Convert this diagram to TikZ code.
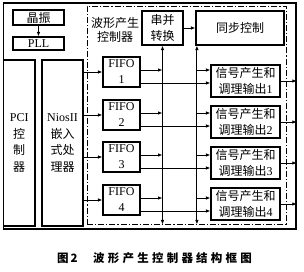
\documentclass[tikz,border=0pt]{standalone}
\usepackage{fontspec}
\usetikzlibrary{arrows.meta}
\setmainfont{Liberation Serif}
\newfontfamily\cjk{Noto Sans CJK SC}
\newfontfamily\capcjk[LetterSpace=28]{Noto Sans CJK SC}
\begin{document}
\begin{tikzpicture}[x=1pt,y=-1pt,
  box/.style={draw, line width=1.2pt, inner sep=0pt, align=center, font=\fontsize{12}{16}\selectfont},
  tall/.style={box, font=\fontsize{12}{16.7}\selectfont},
  arr/.style={line width=0.9pt, -{Latex[length=4.5pt,width=3.6pt]}},
  biarr/.style={line width=0.9pt, {Latex[length=4.5pt,width=3.6pt]}-{Latex[length=4.5pt,width=3.6pt]}},
  lbl/.style={inner sep=0pt, align=center, font=\fontsize{12}{14.5}\selectfont},
  captext/.style={inner sep=0pt, font=\fontsize{11.5}{13}\selectfont\bfseries}]
\useasboundingbox (0,0) rectangle (304,272);
% frames
\node[draw, line width=1.5pt, minimum width=292.5pt, minimum height=226pt, inner sep=0pt] (outer) at (149.75,116) {};
\node[draw, line width=0.9pt, dash pattern=on 6pt off 2pt on 1.2pt off 2pt, minimum width=199pt, minimum height=218pt, inner sep=0pt] (ctl) at (186.5,115) {};
% left part
\node[box, minimum width=51pt, minimum height=15pt] (xz) at (38.5,17.5) {\cjk 晶振};
\node[box, minimum width=51pt, minimum height=13pt] (pll) at (38.5,43.5) {PLL};
\node[tall, minimum width=31.5pt, minimum height=166pt] (pci) at (19.25,143) {PCI\\{\cjk 控}\\{\cjk 制}\\{\cjk 器}};
\node[tall, minimum width=41pt, minimum height=166pt] (nios) at (62.5,143) {NiosII\\{\cjk 嵌入}\\{\cjk 式处}\\{\cjk 理器}};
\draw[arr] (xz.south) -- (pll.north);
% controller
\node[lbl] (wl) at (115,30) {\cjk 波形产生\\\cjk 控制器};
\node[box, minimum width=41pt, minimum height=34pt] (cb) at (162.5,28) {{\cjk 串并}\\{\cjk 转换}};
\node[box, minimum width=88pt, minimum height=34pt] (tb) at (240,28) {\cjk 同步控制};
\draw[arr] (cb.east) -- (tb.west);
\coordinate (v2) at ([xshift=1.5pt]tb.south west);
\foreach \i/\f/\s in {1/72/81, 2/115/122, 3/157/163, 4/200/204} {
  \node[box, minimum width=37pt, minimum height=30pt] (f\i) at (121.5,\f) {FIFO\\\i};
  \node[box, minimum width=69pt, minimum height=32pt] (s\i) at (245.5,\s) {{\cjk 信号产生和}\\{\cjk 调理输出}\i};
  \coordinate (u\i) at ([yshift=2pt]f\i.east);
  \coordinate (l\i) at ([yshift=-11pt]f\i.east);
  \draw[arr] (nios.east |- f\i) -- (f\i.west);
  \draw[arr] (u\i) -- (u\i -| cb.south);
  \draw[arr] (u\i -| v2) -- (u\i -| s\i.west);
  \draw[arr] (l\i) -- (l\i -| s\i.west);
  \draw[arr] (s\i.east) -- (s\i.east -| outer.east);
}
\draw[biarr] (cb.south |- ctl.south) -- (cb.south);
\draw[biarr] (v2 |- ctl.south) -- (v2);
% caption
\node[captext, anchor=west] (fig) at (57,258) {\capcjk 图\hspace{2pt}2};
\node[captext, anchor=west] (title) at (93,258) {\capcjk 波形产生控制器结构框图};
\end{tikzpicture}
\end{document}
